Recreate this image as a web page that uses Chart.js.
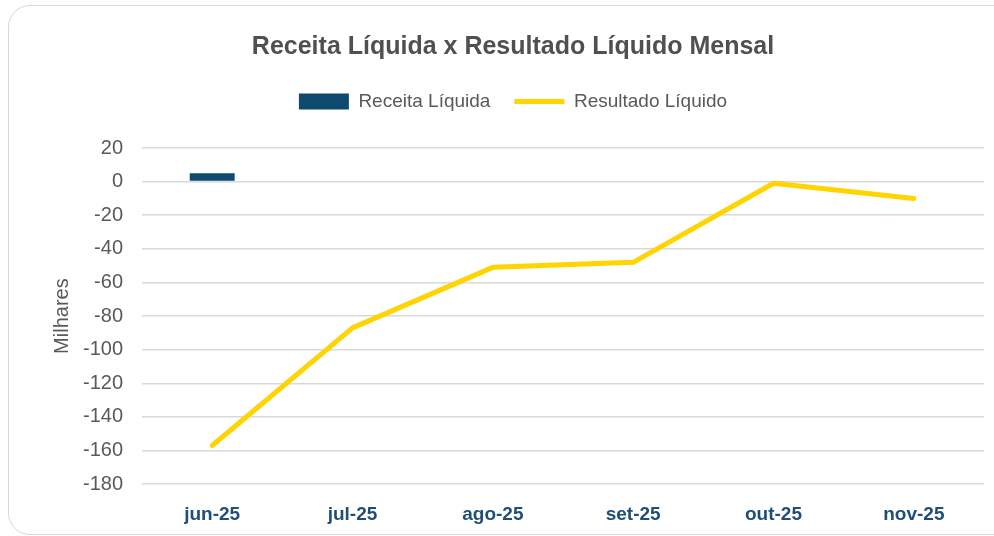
<!DOCTYPE html>
<html>
<head>
<meta charset="utf-8">
<style>
  html, body { margin: 0; padding: 0; background: #fff; width: 994px; height: 536px; overflow: hidden; }
  .card { position: absolute; left: 8px; top: 5px; width: 1010px; height: 528px; border: 1px solid #d9d9d9; border-radius: 22px; }
  .wrap { position: absolute; left: 0; top: 0; width: 994px; height: 536px; }
</style>
</head>
<body>
<div class="card"></div>
<div class="wrap"><canvas id="chart"></canvas></div>
<script src="https://cdn.jsdelivr.net/npm/chart.js"></script>
<script>
  // dados (milhares)
  const meses = ['jun-25', 'jul-25', 'ago-25', 'set-25', 'out-25', 'nov-25'];
  const receitaLiquida = [5, 0, 0, 0, 0, 0];
  const resultadoLiquido = [-157, -87, -51, -48, -1, -10];

  const cinza = '#595959';

  // espaço extra entre legenda e gráfico
  const legendMargin = {
    id: 'legendMargin',
    beforeInit(chart) {
      const fit = chart.legend.fit;
      chart.legend.fit = function () {
        fit.bind(chart.legend)();
        this.height += 27;
      };
    }
  };

  const ctx = document.getElementById('chart').getContext('2d');
  const chart = new Chart(ctx, {
    data: {
      labels: meses,
      datasets: [
        {
          type: 'bar',
          label: 'Receita Líquida',
          data: receitaLiquida,
          backgroundColor: '#0d4a6e',
          barPercentage: 0.32,
          categoryPercentage: 1,
          pointStyle: 'rect',
          order: 2
        },
        {
          type: 'line',
          label: 'Resultado Líquido',
          data: resultadoLiquido,
          borderColor: '#ffd400',
          backgroundColor: '#ffd400',
          borderWidth: 5,
          pointRadius: 0,
          pointStyle: 'line',
          pointBorderColor: '#ffd400',
          pointBorderWidth: 5,
          borderCapStyle: 'round',
          borderJoinStyle: 'round',
          order: 1
        }
      ]
    },
    options: {
      responsive: true,
      maintainAspectRatio: false,
      animation: false,
      layout: { padding: { top: 24, right: 10, left: 42, bottom: -9 } },
      plugins: {
        title: {
          display: true,
          text: 'Receita Líquida x Resultado Líquido Mensal',
          color: '#505050',
          font: { family: 'Liberation Sans', size: 25, weight: 'bold' },
          padding: { top: 8, bottom: 6 }
        },
        legend: {
          reverse: true,
          labels: {
            color: cinza,
            font: { family: 'Liberation Sans', size: 19 },
            usePointStyle: true,
            pointStyleWidth: 50,
            boxHeight: 16,
            padding: 24
          }
        },
        tooltip: { enabled: false }
      },
      scales: {
        x: {
          grid: { display: false, drawTicks: false },
          border: { display: false },
          ticks: {
            color: '#1f4e79',
            font: { family: 'Liberation Sans', size: 19, weight: 'bold' },
            padding: 19
          }
        },
        y: {
          min: -180,
          max: 20,
          ticks: {
            stepSize: 20,
            color: cinza,
            font: { family: 'Liberation Sans', size: 20 },
            padding: 19
          },
          grid: { color: '#d9d9d9', lineWidth: 1.5, drawTicks: false },
          border: { display: false },
          title: {
            display: true,
            text: 'Milhares',
            color: cinza,
            font: { family: 'Liberation Sans', size: 20 },
            padding: { top: 8, bottom: -10 }
          }
        }
      }
    },
    plugins: [legendMargin]
  });
</script>
</body>
</html>
